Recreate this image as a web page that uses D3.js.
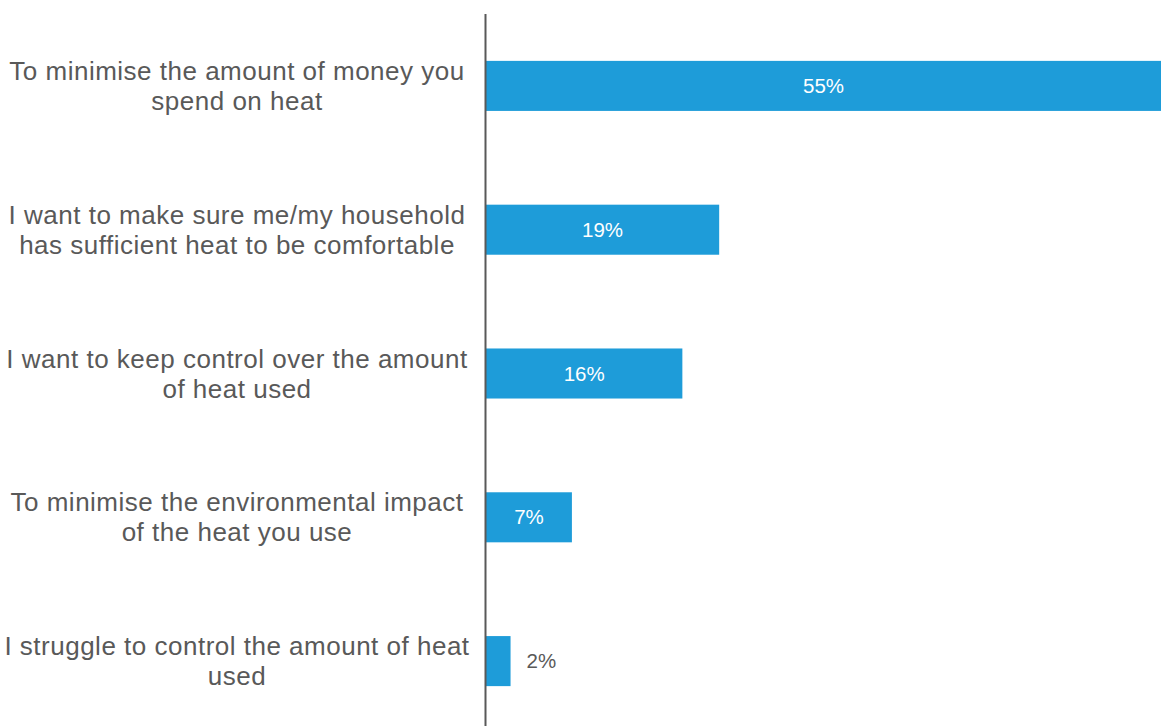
<!DOCTYPE html>
<html>
<head>
<meta charset="utf-8">
<script src="https://cdn.jsdelivr.net/npm/d3@7"></script>
<style>
  html, body { margin: 0; padding: 0; background: #fff; }
  svg { display: block; }
</style>
</head>
<body>
<svg id="chart" width="1161" height="726"></svg>
<script>
// Reasons for managing heat use (share of respondents, %)
const categories = [
  "To minimise the amount of money you\nspend on heat",
  "I want to make sure me/my household\nhas sufficient heat to be comfortable",
  "I want to keep control over the amount\nof heat used",
  "To minimise the environmental impact\nof the heat you use",
  "I struggle to control the amount of heat\nused"
];
const values = [55, 19, 16, 7, 2];
const valueLabels = ["55%", "19%", "16%", "7%", "2%"];

const W = 1161, H = 726;
const axisX = 486;
const labelCenterX = 237;
const textColor = "#595959";
const barColor = "#1E9CD9";
const font = "'Liberation Sans', Arial, sans-serif";

const svg = d3.select("#chart");

const x = d3.scaleLinear().domain([0, 55]).range([axisX, W]);
const y = d3.scaleBand()
  .domain(categories)
  .range([14, 733])
  .paddingInner(0.652)
  .paddingOuter(0.326);

const data = categories.map((c, i) => ({ c, v: values[i], label: valueLabels[i] }));

// Bars
svg.append("g").selectAll("rect")
  .data(data)
  .join("rect")
  .attr("x", x(0))
  .attr("y", d => y(d.c))
  .attr("width", d => x(d.v) - x(0))
  .attr("height", y.bandwidth())
  .attr("fill", barColor);

// Value labels: inside the bar when it is wide enough, otherwise just past its end
const inside = d => x(d.v) - x(0) > 60;
svg.append("g").selectAll("text")
  .data(data)
  .join("text")
  .attr("x", d => inside(d) ? (x(0) + x(d.v)) / 2 : x(d.v) + 16)
  .attr("y", d => y(d.c) + y.bandwidth() / 2)
  .attr("dy", "0.35em")
  .attr("text-anchor", d => inside(d) ? "middle" : "start")
  .attr("fill", d => inside(d) ? "#ffffff" : textColor)
  .style("font-family", font)
  .style("font-size", "20.5px")
  .text(d => d.label);

// Category axis
const yAxis = d3.axisLeft(y).tickSize(0).tickFormat("");
const gAxis = svg.append("g")
  .attr("transform", `translate(${axisX},0)`)
  .call(yAxis);
gAxis.select(".domain").remove();
svg.append("line")
  .attr("x1", axisX - 0.5).attr("x2", axisX - 0.5)
  .attr("y1", 14).attr("y2", H)
  .attr("stroke", textColor)
  .attr("stroke-width", 2);

// Wrapped category labels, centred in the left column
const lineH = 30;
svg.append("g").selectAll("text")
  .data(categories)
  .join("text")
  .attr("text-anchor", "middle")
  .attr("fill", textColor)
  .style("font-family", font)
  .style("font-size", "26px")
  .style("letter-spacing", "0.5px")
  .each(function(c) {
    const lines = c.split("\n");
    const cy = y(c) + y.bandwidth() / 2;
    const top = cy - (lines.length - 1) * lineH / 2;
    d3.select(this).selectAll("tspan")
      .data(lines)
      .join("tspan")
      .attr("x", labelCenterX)
      .attr("y", (d, i) => top + i * lineH)
      .attr("dy", "0.35em")
      .text(d => d);
  });
</script>
</body>
</html>
